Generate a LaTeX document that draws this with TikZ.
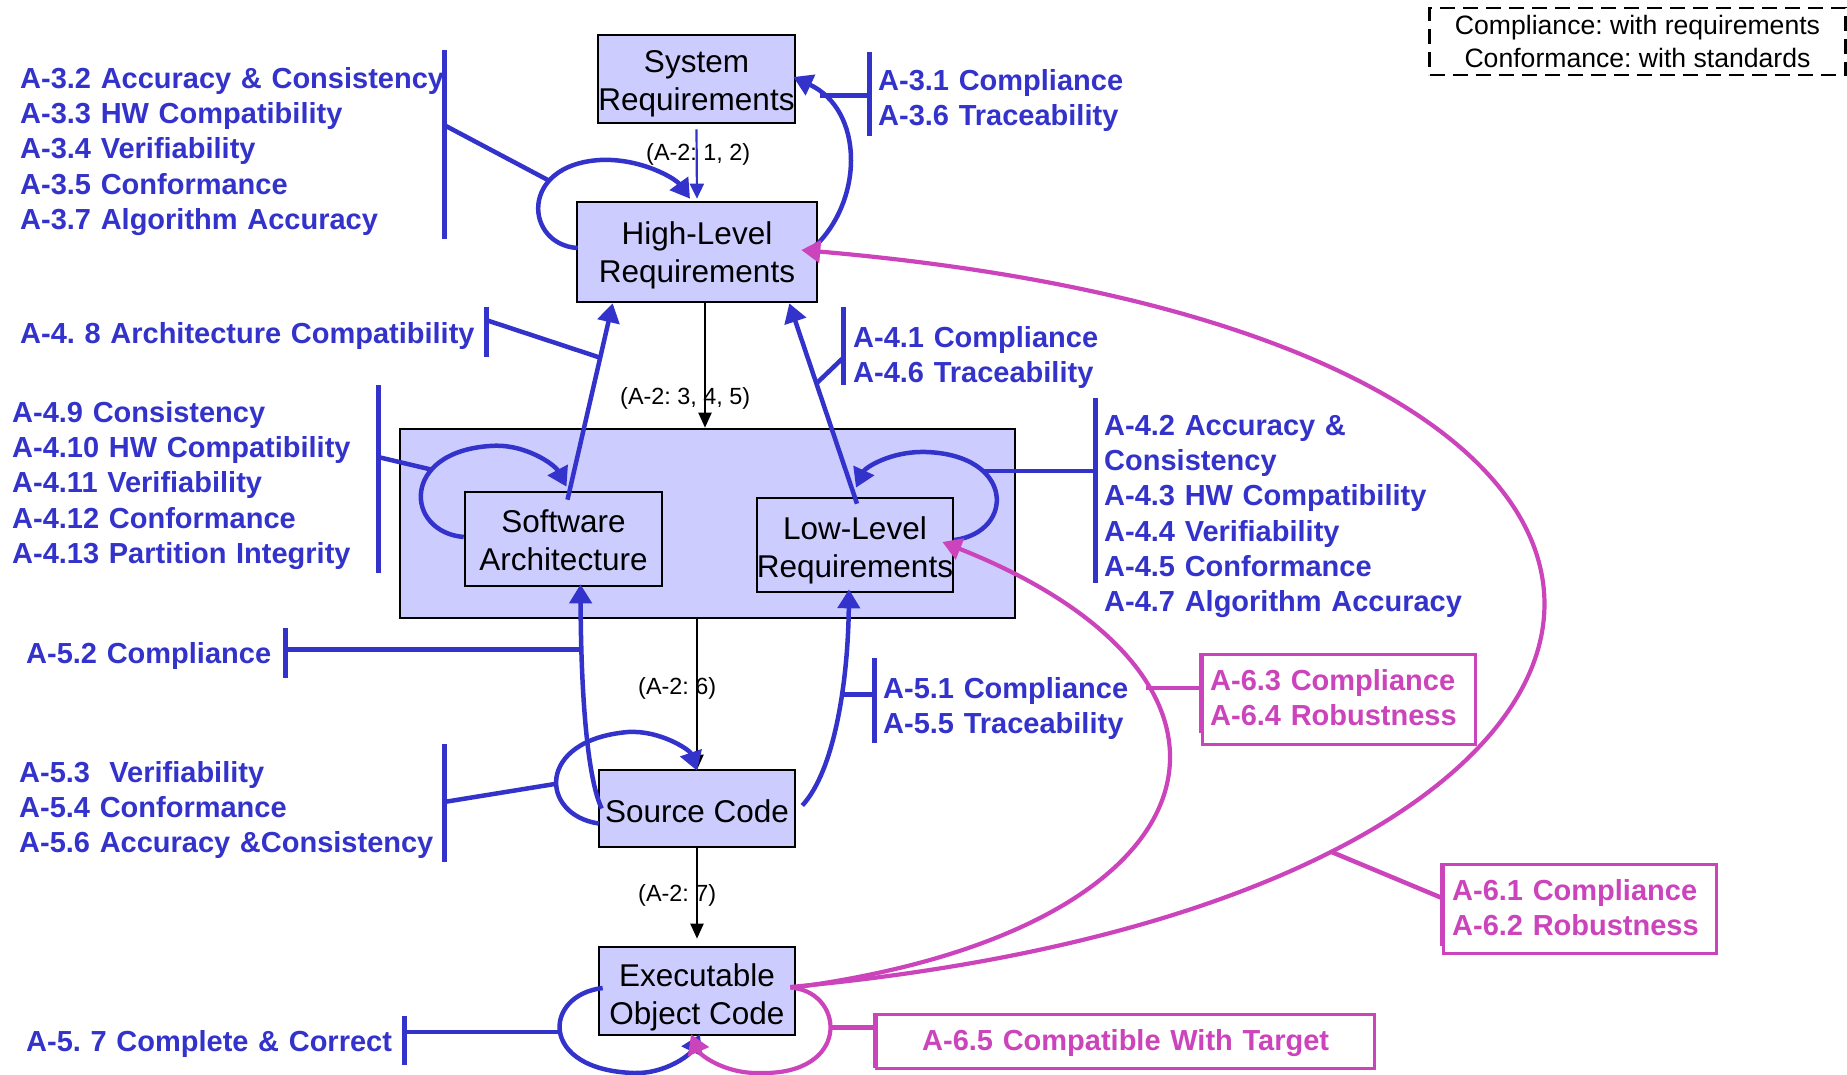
\documentclass[tikz,border=0pt]{standalone}
\usepackage{fontspec}
\setmainfont{Liberation Sans}
\usetikzlibrary{arrows.meta,calc}
\definecolor{vblue}{RGB}{51,51,204}
\definecolor{boxfill}{RGB}{204,204,255}
\definecolor{vmag}{RGB}{204,68,187}
% invisible strut that heightens the first line of a box label
\newcommand{\topstrut}[1]{\rule{0pt}{#1}}
\begin{document}
\frenchspacing
\begin{tikzpicture}[x=1pt,y=-1pt,
  artefact/.style={draw=black, line width=2.6pt, fill=boxfill, inner sep=0pt,
    align=center, font=\fontsize{31.5}{38}\selectfont},
  obj/.style={text=vblue, font=\bfseries\fontsize{29}{35.2}\selectfont\frenchspacing,
    text width=#1, align=left, inner sep=0pt, anchor=base west},
  obj/.default=440pt,
  objm/.style={obj=#1, text=vmag},
  objm/.default=280pt,
  stage/.style={font=\fontsize{23.4}{28}\selectfont, inner sep=0pt, anchor=base west},
  flow/.style={draw=black, line width=2pt, -{Triangle[length=15pt,width=13pt]}},
  thinflow/.style={draw=vblue, line width=2.2pt, -{Triangle[length=15pt,width=14pt]}},
  trace/.style={draw=vblue, line width=4.5pt, -{Triangle[length=19pt,width=22pt]}},
  tracem/.style={draw=vmag, line width=4.2pt, -{Triangle[length=19pt,width=22pt]}},
  bracket/.style={draw=vblue, line width=5pt},
  tie/.style={draw=vblue, line width=4.5pt},
  mbox/.style={draw=vmag, line width=2.5pt, inner sep=0pt, anchor=north west},
  mbar/.style={draw=vmag, line width=5pt},
  mtie/.style={draw=vmag, line width=4.5pt},
  legend/.style={draw=black, line width=2.4pt, dash pattern=on 15pt off 8pt,
    inner sep=0pt, align=center, font=\fontsize{26.6}{33}\selectfont}
]
\useasboundingbox (0,0) rectangle (1847,1075);
\fill[white] (0,0) rectangle (1847,1075);

% life-cycle artefacts
\node[draw=black, line width=2.6pt, fill=boxfill, minimum width=615pt, minimum height=189pt] (cont) at (707.5,523.5) {};
\node[artefact, minimum width=197pt, minimum height=88pt] (sys) at (696.5,79) {\topstrut{32pt}System\\Requirements};
\node[artefact, minimum width=240pt, minimum height=100pt] (hlr) at (697,252) {\topstrut{29.7pt}High-Level\\Requirements};
\node[artefact, minimum width=197pt, minimum height=94pt] (sw) at (563.5,539) {\topstrut{25pt}Software\\Architecture};
\node[artefact, minimum width=196pt, minimum height=94pt] (llr) at (855,545) {\topstrut{32.7pt}Low-Level\\Requirements};
\node[artefact, minimum width=196pt, minimum height=77pt] (sc) at (697,808.5) {\topstrut{27.5pt}Source Code};
\node[artefact, minimum width=196pt, minimum height=88pt] (eoc) at (697,991) {\topstrut{34.7pt}Executable\\Object Code};

% development flow labels
\node[stage] (s12) at (646,160.4) {(A-2: 1, 2)};
\node[stage] (s345) at (620,404.4) {(A-2: 3, 4, 5)};
\node[stage] (s6) at (638,694.4) {(A-2: 6)};
\node[stage] (s7) at (638,901.4) {(A-2: 7)};

% development flow
\draw[thinflow] ([yshift=-5pt]sys.south) -- ([yshift=2pt]hlr.north);
\draw[flow] ([xshift=8pt]hlr.south) -- ([xshift=8pt]hlr.south |- cont.north);
\draw[flow] (sc.north |- cont.south) -- ([yshift=-1pt]sc.north);
\draw[flow] (sc.south) -- ([yshift=7pt]eoc.north);

% verification loops and traces (blue)
\draw[trace] ($(hlr.west)+(2,-4)$) .. controls (525,245) and (518,165) .. coordinate[pos=0.7] (j3) (600,160)
  .. controls (640,158) and (675,178) .. ($(hlr.north)+(-7,-2)$);
\draw[trace] ($(hlr.east)+(-4,-5)$) .. controls (864,200) and (864,110) .. coordinate[pos=0.85] (j31) ($(sys.east)+(-3,-2)$);
\draw[trace] ($(sw.north)+(4,9)$) -- coordinate[pos=0.723] (j48) ($(hlr.south west)+(37,0)$);
\draw[trace] ($(llr.north)+(2,7)$) -- coordinate[pos=0.6] (j41) ($(hlr.south east)+(-29,0)$);
\draw[trace] ($(sw.west)+(0,-2)$) .. controls (405,532) and (400,452) .. coordinate[pos=0.68] (j49) (490,446)
  .. controls (525,443) and (555,465) .. ($(sw.north)+(3,-4)$);
\draw[trace] ($(llr.east)+(0,-5)$) .. controls (1015,532) and (1015,455) .. coordinate[pos=0.7] (j42) (926,452)
  .. controls (890,451) and (865,468) .. ($(llr.north)+(1,-9)$);
\draw[trace] ($(sc.west)+(4,0)$) .. controls (588,780) and (581,700) .. coordinate[pos=0.8] (j52) ($(sw.south)+(17,-3)$);
\draw[trace] ($(sc.east)+(6,-3)$) .. controls (835,770) and (848,680) .. coordinate[pos=0.6] (j51) ($(llr.south)+(-6,-4)$);
\draw[trace] ($(sc.west)+(1,15)$) .. controls (540,815) and (535,740) .. coordinate[pos=0.45] (j53) (628,732)
  .. controls (660,730) and (690,750) .. ($(sc.north)+(0,2)$);
\draw[trace] ($(eoc.west)+(5,-3)$) .. controls (543,995) and (538,1070) .. coordinate[pos=0.5] (j57) (634,1073)
  .. controls (665,1074) and (690,1055) .. ($(eoc.south)+(3,-2)$);

% verification loops and traces (magenta)
\draw[tracem] ($(eoc.east)+(-6,-4)$) .. controls (1740,900) and (1840,340) .. coordinate[pos=0.245] (c61) ($(hlr.east)+(-17,-2)$);
\draw[tracem] ($(eoc.east)+(-6,-3)$) .. controls (1230,930) and (1290,680) .. coordinate[pos=0.7] (c63) ($(llr.east)+(-12,-3)$);
\draw[tracem] ($(eoc.east)+(-2,-3)$) .. controls (845,995) and (850,1075) .. coordinate[pos=0.45] (c65) (760,1073)
  .. controls (725,1074) and (700,1055) .. ($(eoc.south)+(-6,-2)$);

% objective lists
\node[obj] (l3a) at (20,88.5) {A-3.2 Accuracy \& Consistency\\A-3.3 HW Compatibility\\A-3.4 Verifiability\\A-3.5 Conformance\\A-3.7 Algorithm Accuracy};
\node[obj] (l31) at (878,90.5) {A-3.1 Compliance\\A-3.6 Traceability};
\node[obj=480pt] (l48) at (20,343.5) {A-4. 8 Architecture Compatibility};
\node[obj] (l41) at (853,347.5) {A-4.1 Compliance\\A-4.6 Traceability};
\node[obj=400pt] (l42) at (1104,435.5) {A-4.2 Accuracy \&\\Consistency\\A-4.3 HW Compatibility\\A-4.4 Verifiability\\A-4.5 Conformance\\A-4.7 Algorithm Accuracy};
\node[obj] (l49) at (12,422.5) {A-4.9 Consistency\\A-4.10 HW Compatibility\\A-4.11 Verifiability\\A-4.12 Conformance\\A-4.13 Partition Integrity};
\node[obj] (l52) at (26,663.5) {A-5.2 Compliance};
\node[obj] (l51) at (883,698.5) {A-5.1 Compliance\\A-5.5 Traceability};
\node[obj] (l53) at (19,782.5) {A-5.3\ \ Verifiability\\A-5.4 Conformance\\A-5.6 Accuracy \&Consistency};
\node[obj] (l57) at (26,1051.5) {A-5. 7 Complete \& Correct};

% blue brackets and their ties
\coordinate (k3) at (444,125);
\draw[bracket] (444,50) -- (444,239);
\draw[tie] (k3) -- (j3);
\coordinate (k31) at (869,95);
\draw[bracket] (869,52) -- (869,136);
\draw[tie] (j31) -- (k31 |- j31);
\coordinate (k48) at (486,320);
\draw[bracket] (486,307) -- (486,357);
\draw[tie] (k48) -- (j48);
\coordinate (k41) at (843,358);
\draw[bracket] (843,307) -- (843,385);
\draw[tie] (k41) -- (j41);
\coordinate (k49) at (378,457);
\draw[bracket] (378,385) -- (378,573);
\draw[tie] (k49) -- (j49);
\coordinate (k42) at (1095,471);
\draw[bracket] (1095,398) -- (1095,583);
\draw[tie] (j42) -- (k42 |- j42);
\coordinate (k52) at (285,649);
\draw[bracket] (285,628) -- (285,678);
\draw[tie] (k52 |- j52) -- (j52);
\coordinate (k51) at (874,690);
\draw[bracket] (874,658) -- (874,743);
\draw[tie] (j51) -- (k51 |- j51);
\coordinate (k53) at (444,802);
\draw[bracket] (444,744) -- (444,862);
\draw[tie] (k53) -- (j53);
\coordinate (k57) at (404,1033);
\draw[bracket] (404,1016) -- (404,1065);
\draw[tie] (k57 |- j57) -- (j57);

% magenta objective boxes
\node[mbox, minimum width=273pt, minimum height=90pt] (b63) at (1201,653) {};
\node[objm] (l63) at (1210,690.5) {A-6.3 Compliance\\A-6.4 Robustness};
\draw[mbar] (b63.north west) -- ($(b63.south west)+(0,-13)$);
\draw[mtie] (c63) -- (c63 -| b63.west);
\node[mbox, minimum width=273pt, minimum height=89pt] (b61) at (1442,863) {};
\node[objm] (l61) at (1452,900.5) {A-6.1 Compliance\\A-6.2 Robustness};
\draw[mbar] (b61.north west) -- ($(b61.south west)+(0,-9)$);
\draw[mtie] (c61) -- ($(b61.north west)+(0,35)$);
\node[mbox, minimum width=498pt, minimum height=54pt] (b65) at (875,1013) {};
\node[objm=420pt] (l65) at (922,1050.5) {A-6.5 Compatible With Target};
\draw[mbar] (b65.north west) -- ($(b65.south west)+(0,-2)$);
\draw[mtie] (c65) -- (c65 -| b65.west);

% legend
\node[legend, minimum width=416pt, minimum height=67pt] (key) at (1637.5,41.5)
  {Compliance: with requirements\\Conformance: with standards};
\end{tikzpicture}
\end{document}
